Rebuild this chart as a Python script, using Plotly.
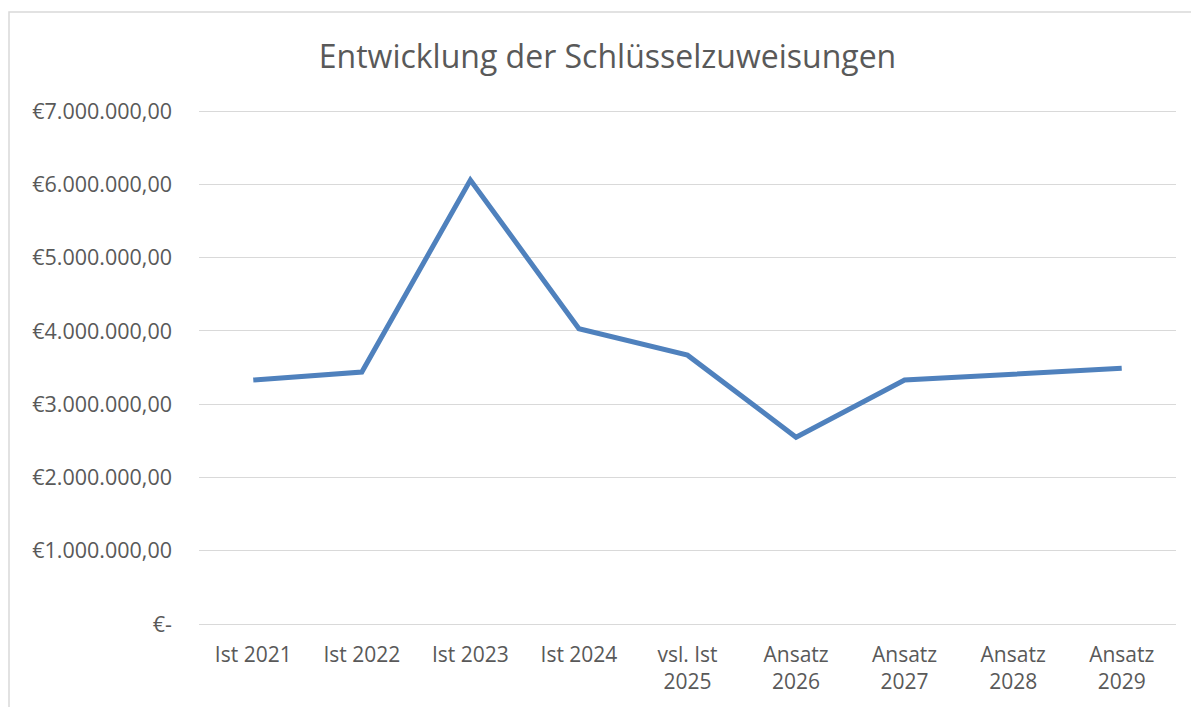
import plotly.graph_objects as go

categories = ["Ist 2021", "Ist 2022", "Ist 2023", "Ist 2024", "vsl. Ist<br>2025",
              "Ansatz<br>2026", "Ansatz<br>2027", "Ansatz<br>2028", "Ansatz<br>2029"]
values = [3330000, 3440000, 6060000, 4030000, 3670000, 2550000, 3330000, 3410000, 3490000]
tick_vals = [0, 1000000, 2000000, 3000000, 4000000, 5000000, 6000000, 7000000]
tick_text = ["€-", "€1.000.000,00", "€2.000.000,00", "€3.000.000,00", "€4.000.000,00",
             "€5.000.000,00", "€6.000.000,00", "€7.000.000,00"]

# page body has an 8px margin; lay out in figure coordinates
off = 8
W, H = 1199 - off, 707 - off
ml, mr, mt, mb = 199 - off, 23, 101, 83
pw, ph = W - ml - mr, H - mt - mb

fig = go.Figure()
fig.add_trace(go.Scatter(x=categories, y=values, mode="lines",
                         line=dict(color="#4F81BD", width=5), hoverinfo="x+y"))

font_family = "Open Sans, Noto Sans, sans-serif"
fig.update_layout(
    width=W, height=H,
    margin=dict(l=ml, r=mr, t=mt, b=mb),
    paper_bgcolor="white", plot_bgcolor="white",
    showlegend=False,
    title=dict(text="Entwicklung der Schlüsselzuweisungen", x=(607.5 - off) / W, xanchor="center",
               y=1 - (57 - off) / H, yanchor="middle", yref="container",
               font=dict(family=font_family, size=32, color="#595959")),
    font=dict(family=font_family, size=21, color="#595959"),
    xaxis=dict(showgrid=False, showline=False, zeroline=False, ticks="",
               ticklabelstandoff=16, range=[-0.5, len(categories) - 0.5],
               tickfont=dict(size=21)),
    yaxis=dict(range=[0, 7030000], tickvals=tick_vals, ticktext=tick_text,
               showgrid=True, gridcolor="#D9D9D9", gridwidth=1.3,
               zeroline=True, zerolinecolor="#D9D9D9", zerolinewidth=1.3,
               showline=False, ticks="", ticklabelstandoff=26,
               tickfont=dict(size=21.5)),
    shapes=[dict(type="rect", xref="paper", yref="paper",
                 x0=(1 - ml) / pw, x1=(1210 - ml) / pw,
                 y0=(H - mb - 720) / ph, y1=(H - mb - 4) / ph,
                 line=dict(color="#D9D9D9", width=1.5), fillcolor="rgba(0,0,0,0)",
                 layer="below")],
)

fig.write_html("out.html")
